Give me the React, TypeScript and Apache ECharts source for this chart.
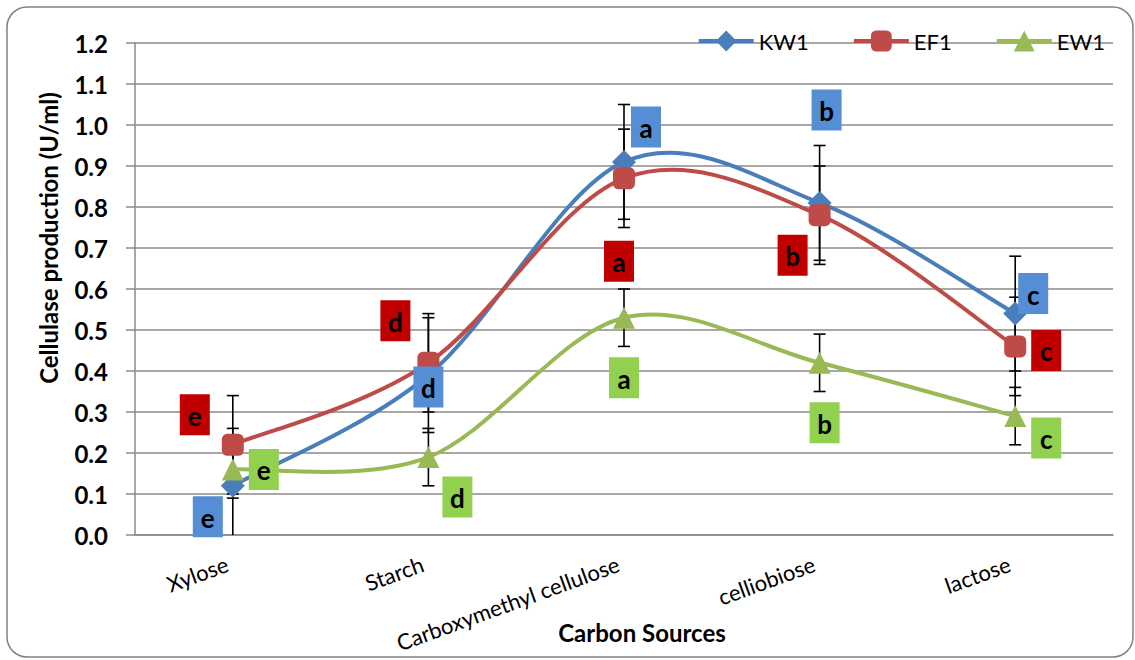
import React, { useEffect, useRef } from "react";
import * as echarts from "echarts";

const categories = ["Xylose", "Starch", "Carboxymethyl cellulose", "celliobiose", "lactose"];
const seriesNames = ["KW1", "EF1", "EW1"];

const kw1Values = [0.12, 0.39, 0.91, 0.81, 0.54];
const ef1Values = [0.22, 0.42, 0.87, 0.78, 0.46];
const ew1Values = [0.16, 0.19, 0.53, 0.42, 0.29];

const kw1Errors = [0.14, 0.14, 0.14, 0.14, 0.14];
const ef1Errors = [0.12, 0.12, 0.12, 0.12, 0.12];
const ew1Errors = [0.07, 0.07, 0.07, 0.07, 0.07];

const kw1Letters = ["e", "d", "a", "b", "c"];
const ef1Letters = ["e", "d", "a", "b", "c"];
const ew1Letters = ["e", "d", "a", "b", "c"];

// layout only: pixel offsets of each letter box from its point
const kw1LetterOffsets = [[-25, 31], [0, 12], [22, -35], [7, -93], [18, -20]];
const ef1LetterOffsets = [[-38, -30], [-33, -42], [-5, 83], [-27, 40], [31, 4]];
const ew1LetterOffsets = [[31, 0], [29, 40], [0, 60], [5, 60], [31, 22]];

const FONT = "Lato, 'Noto Sans', sans-serif";
const GRID_COLOR = "#8a8a8a";

// markers only; the visible curve is drawn by curveSeries
function markerSeries(name: string, values: number[], color: string, symbol: string, size: number) {
  return {
    name,
    type: "line",
    data: values,
    symbol,
    symbolSize: size,
    showSymbol: true,
    lineStyle: { color, width: 4, opacity: 0 },
    itemStyle: { color },
    z: 4,
  };
}

// Catmull-Rom style smoothed curve through the points (Excel-like smoothing)
function curveSeries(name: string, values: number[], color: string) {
  return {
    name: name + " curve",
    type: "custom",
    z: 3,
    data: values.map((v, i) => [i, v]),
    encode: { x: 0, y: 1 },
    renderItem: (params: any, api: any) => {
      const i = params.dataIndex;
      const n = values.length;
      if (i >= n - 1) return { type: "group", children: [] };
      const P = (j: number) => {
        const k = Math.min(Math.max(j, 0), n - 1);
        return api.coord([k, values[k]]);
      };
      const p0 = P(i - 1);
      const p1 = P(i);
      const p2 = P(i + 1);
      const p3 = P(i + 2);
      const c1 = [p1[0] + (p2[0] - p0[0]) / 6, p1[1] + (p2[1] - p0[1]) / 6];
      const c2 = [p2[0] - (p3[0] - p1[0]) / 6, p2[1] - (p3[1] - p1[1]) / 6];
      return {
        type: "bezierCurve",
        shape: { x1: p1[0], y1: p1[1], x2: p2[0], y2: p2[1], cpx1: c1[0], cpy1: c1[1], cpx2: c2[0], cpy2: c2[1] },
        style: { stroke: color, lineWidth: 4, fill: "none", lineCap: "round" },
      };
    },
  };
}

function errorSeries(name: string, values: number[], errors: number[]) {
  return {
    name: name + " error",
    type: "custom",
    z: 2,
    data: values.map((v, i) => [i, v, errors[i]]),
    encode: { x: 0, y: 1 },
    renderItem: (params: any, api: any) => {
      const i = api.value(0);
      const v = api.value(1);
      const e = api.value(2);
      const hi = v + e;
      const lo = v - e;
      const pTop = api.coord([i, hi]);
      const pBot = api.coord([i, Math.max(lo, 0)]);
      const cap = 6;
      const style = { stroke: "#000", lineWidth: 1.6 };
      const children: any[] = [
        { type: "line", shape: { x1: pTop[0], y1: pTop[1], x2: pBot[0], y2: pBot[1] }, style },
        { type: "line", shape: { x1: pTop[0] - cap, y1: pTop[1], x2: pTop[0] + cap, y2: pTop[1] }, style },
      ];
      if (lo >= 0) {
        children.push({ type: "line", shape: { x1: pBot[0] - cap, y1: pBot[1], x2: pBot[0] + cap, y2: pBot[1] }, style });
      }
      return { type: "group", children };
    },
  };
}

function letterSeries(name: string, values: number[], letters: string[], offsets: number[][], fill: string) {
  return {
    name: name + " letters",
    type: "custom",
    z: 5,
    data: values.map((v, i) => [i, v]),
    encode: { x: 0, y: 1 },
    renderItem: (params: any, api: any) => {
      const p = api.coord([api.value(0), api.value(1)]);
      const off = offsets[params.dataIndex];
      const cx = p[0] + off[0];
      const cy = p[1] + off[1];
      return {
        type: "group",
        children: [
          { type: "rect", shape: { x: cx - 15, y: cy - 20.5, width: 30, height: 41 }, style: { fill } },
          {
            type: "text",
            style: {
              text: letters[params.dataIndex],
              x: cx,
              y: cy + 1,
              align: "center",
              verticalAlign: "middle",
              fill: "#000",
              fontSize: 26,
              fontWeight: "bold",
              fontFamily: FONT,
            },
          },
        ],
      };
    },
  };
}

export default function App() {
  const ref = useRef<HTMLDivElement>(null);
  useEffect(() => {
    if (!ref.current) return;
    const chart = echarts.init(ref.current, null, { renderer: "svg" });
    chart.setOption({
      animation: false,
      backgroundColor: "#fff",
      grid: { left: 135, right: 22, top: 43, bottom: 125 },
      legend: {
        data: seriesNames,
        right: 30,
        top: 30,
        padding: 0,
        itemWidth: 55,
        itemHeight: 26,
        itemGap: 43,
        lineStyle: { width: 4, opacity: 1 },
        textStyle: { fontSize: 22, color: "#000", fontFamily: FONT },
      },
      xAxis: {
        type: "category",
        data: categories,
        boundaryGap: true,
        axisLine: { lineStyle: { color: GRID_COLOR, width: 1.5 } },
        axisTick: { show: false },
        axisLabel: {
          rotate: 20,
          interval: 0,
          fontSize: 22,
          color: "#000",
          margin: 26,
          padding: [0, 6, 0, 0],
          fontFamily: FONT,
        },
      },
      yAxis: {
        type: "value",
        min: 0,
        max: 1.2,
        interval: 0.1,
        axisLine: { show: true, lineStyle: { color: GRID_COLOR, width: 1.5 } },
        axisTick: { show: true, length: 9, lineStyle: { color: GRID_COLOR, width: 1.5 } },
        axisLabel: {
          formatter: (v: number) => v.toFixed(1),
          fontSize: 24,
          fontWeight: "bold",
          color: "#000",
          margin: 27,
          fontFamily: FONT,
        },
        splitLine: { lineStyle: { color: GRID_COLOR, width: 1.5 } },
      },
      graphic: [
        {
          type: "rect",
          z: -10,
          shape: { x: 7, y: 7, width: 1126, height: 650, r: 20 },
          style: { fill: "transparent", stroke: "#808080", lineWidth: 1.5 },
        },
        {
          type: "text",
          x: 48,
          y: 238,
          rotation: Math.PI / 2,
          style: {
            text: "Cellulase production (U/ml)",
            align: "center",
            verticalAlign: "middle",
            fill: "#000",
            fontSize: 24,
            fontWeight: "bold",
            fontFamily: FONT,
          },
        },
        {
          type: "text",
          x: 642,
          y: 632,
          style: {
            text: "Carbon Sources",
            align: "center",
            verticalAlign: "middle",
            fill: "#000",
            fontSize: 24,
            fontWeight: "bold",
            fontFamily: FONT,
          },
        },
      ],
      series: [
        errorSeries("KW1", kw1Values, kw1Errors),
        errorSeries("EF1", ef1Values, ef1Errors),
        errorSeries("EW1", ew1Values, ew1Errors),
        curveSeries("KW1", kw1Values, "#4A7EBB"),
        curveSeries("EF1", ef1Values, "#BE4B48"),
        curveSeries("EW1", ew1Values, "#98B954"),
        markerSeries("KW1", kw1Values, "#4A7EBB", "diamond", 24),
        markerSeries("EF1", ef1Values, "#BE4B48", "roundRect", 22),
        markerSeries("EW1", ew1Values, "#98B954", "triangle", 22),
        letterSeries("KW1", kw1Values, kw1Letters, kw1LetterOffsets, "#558ED5"),
        letterSeries("EF1", ef1Values, ef1Letters, ef1LetterOffsets, "#C00000"),
        letterSeries("EW1", ew1Values, ew1Letters, ew1LetterOffsets, "#92D050"),
      ],
    });
    return () => chart.dispose();
  }, []);
  return <div ref={ref} style={{ position: "absolute", left: 0, top: 0, width: 1135, height: 660 }} />;
}
